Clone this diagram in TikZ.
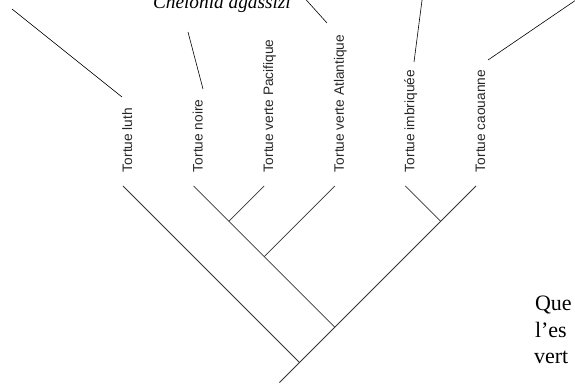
\documentclass[tikz,border=0pt]{standalone}
\usepackage{fontspec}
\setmainfont{Liberation Serif}
\setsansfont{Liberation Sans}
\usepackage{tikz}

\begin{document}
\begin{tikzpicture}[x=1pt, y=-1pt, outer sep = 0pt, inner sep = 0pt]

\tikzstyle{branch}=[draw, line width=0.75pt, black!80]
\tikzstyle{pointer}=[draw, line width=0.6pt]
\tikzstyle{leaflabel}=[rotate=90, anchor=base west, text=black!85, font=\sffamily\fontsize{13.7}{16}\selectfont]
\tikzstyle{species}=[anchor=base west, font=\rmfamily\itshape\fontsize{19.3}{22}\selectfont]
\tikzstyle{question}=[anchor=base west, font=\rmfamily\fontsize{22}{26}\selectfont]

\clip (0,0) rectangle (575,383);

\coordinate (luth) at (123,186); \coordinate (noire) at (193.6,186); \coordinate (pacif) at (264.2,186);
\coordinate (atlan) at (334.8,186); \coordinate (imbri) at (405.4,186); \coordinate (caou) at (476,186);
\coordinate (n1) at (228.9,221.3); \coordinate (n2) at (264.2,256.6); \coordinate (n3) at (440.7,221.3);
\coordinate (n4) at (334.8,327.2); \coordinate (n5) at (299.5,362.5); \coordinate (root) at (279.5,382.5);

\draw[branch] (caou) -- (root); \draw[branch] (luth) -- (n5); \draw[branch] (noire) -- (n4);
\draw[branch] (pacif) -- (n1); \draw[branch] (atlan) -- (n2); \draw[branch] (imbri) -- (n3);

\node[leaflabel] (luthlab) at (132,172) {Tortue luth}; \node[leaflabel] (noirelab) at (202.6,172) {Tortue noire};
\node[leaflabel] (paciflab) at (273.2,172) {Tortue verte Pacifique}; \node[leaflabel] (atlanlab) at (343.8,172) {Tortue verte Atlantique};
\node[leaflabel] (imbrilab) at (414.4,172) {Tortue imbriquée}; \node[leaflabel] (caoulab) at (485,172) {Tortue caouanne};

\coordinate (p1a) at (12,9); \coordinate (p1b) at (122,97);
\coordinate (p2a) at (188,32); \coordinate (p2b) at (203,89);
\coordinate (p3a) at (304.5,-2); \coordinate (p3b) at (327,23);
\coordinate (p4a) at (422.3,-2); \coordinate (p4b) at (414,62);
\coordinate (p5a) at (576,0); \coordinate (p5b) at (488,60);
\draw[pointer] (p1a) -- (p1b); \draw[pointer] (p2a) -- (p2b); \draw[pointer] (p3a) -- (p3b);
\draw[pointer] (p4a) -- (p4b); \draw[pointer] (p5a) -- (p5b);

\node[species] (chel) at (153,8) {Chelonia agassizi};

\node[question] (q1) at (535,310) {Que}; \node[question] (q2) at (535,337) {l’es}; \node[question] (q3) at (534,363) {vert};

\end{tikzpicture}
\end{document}
